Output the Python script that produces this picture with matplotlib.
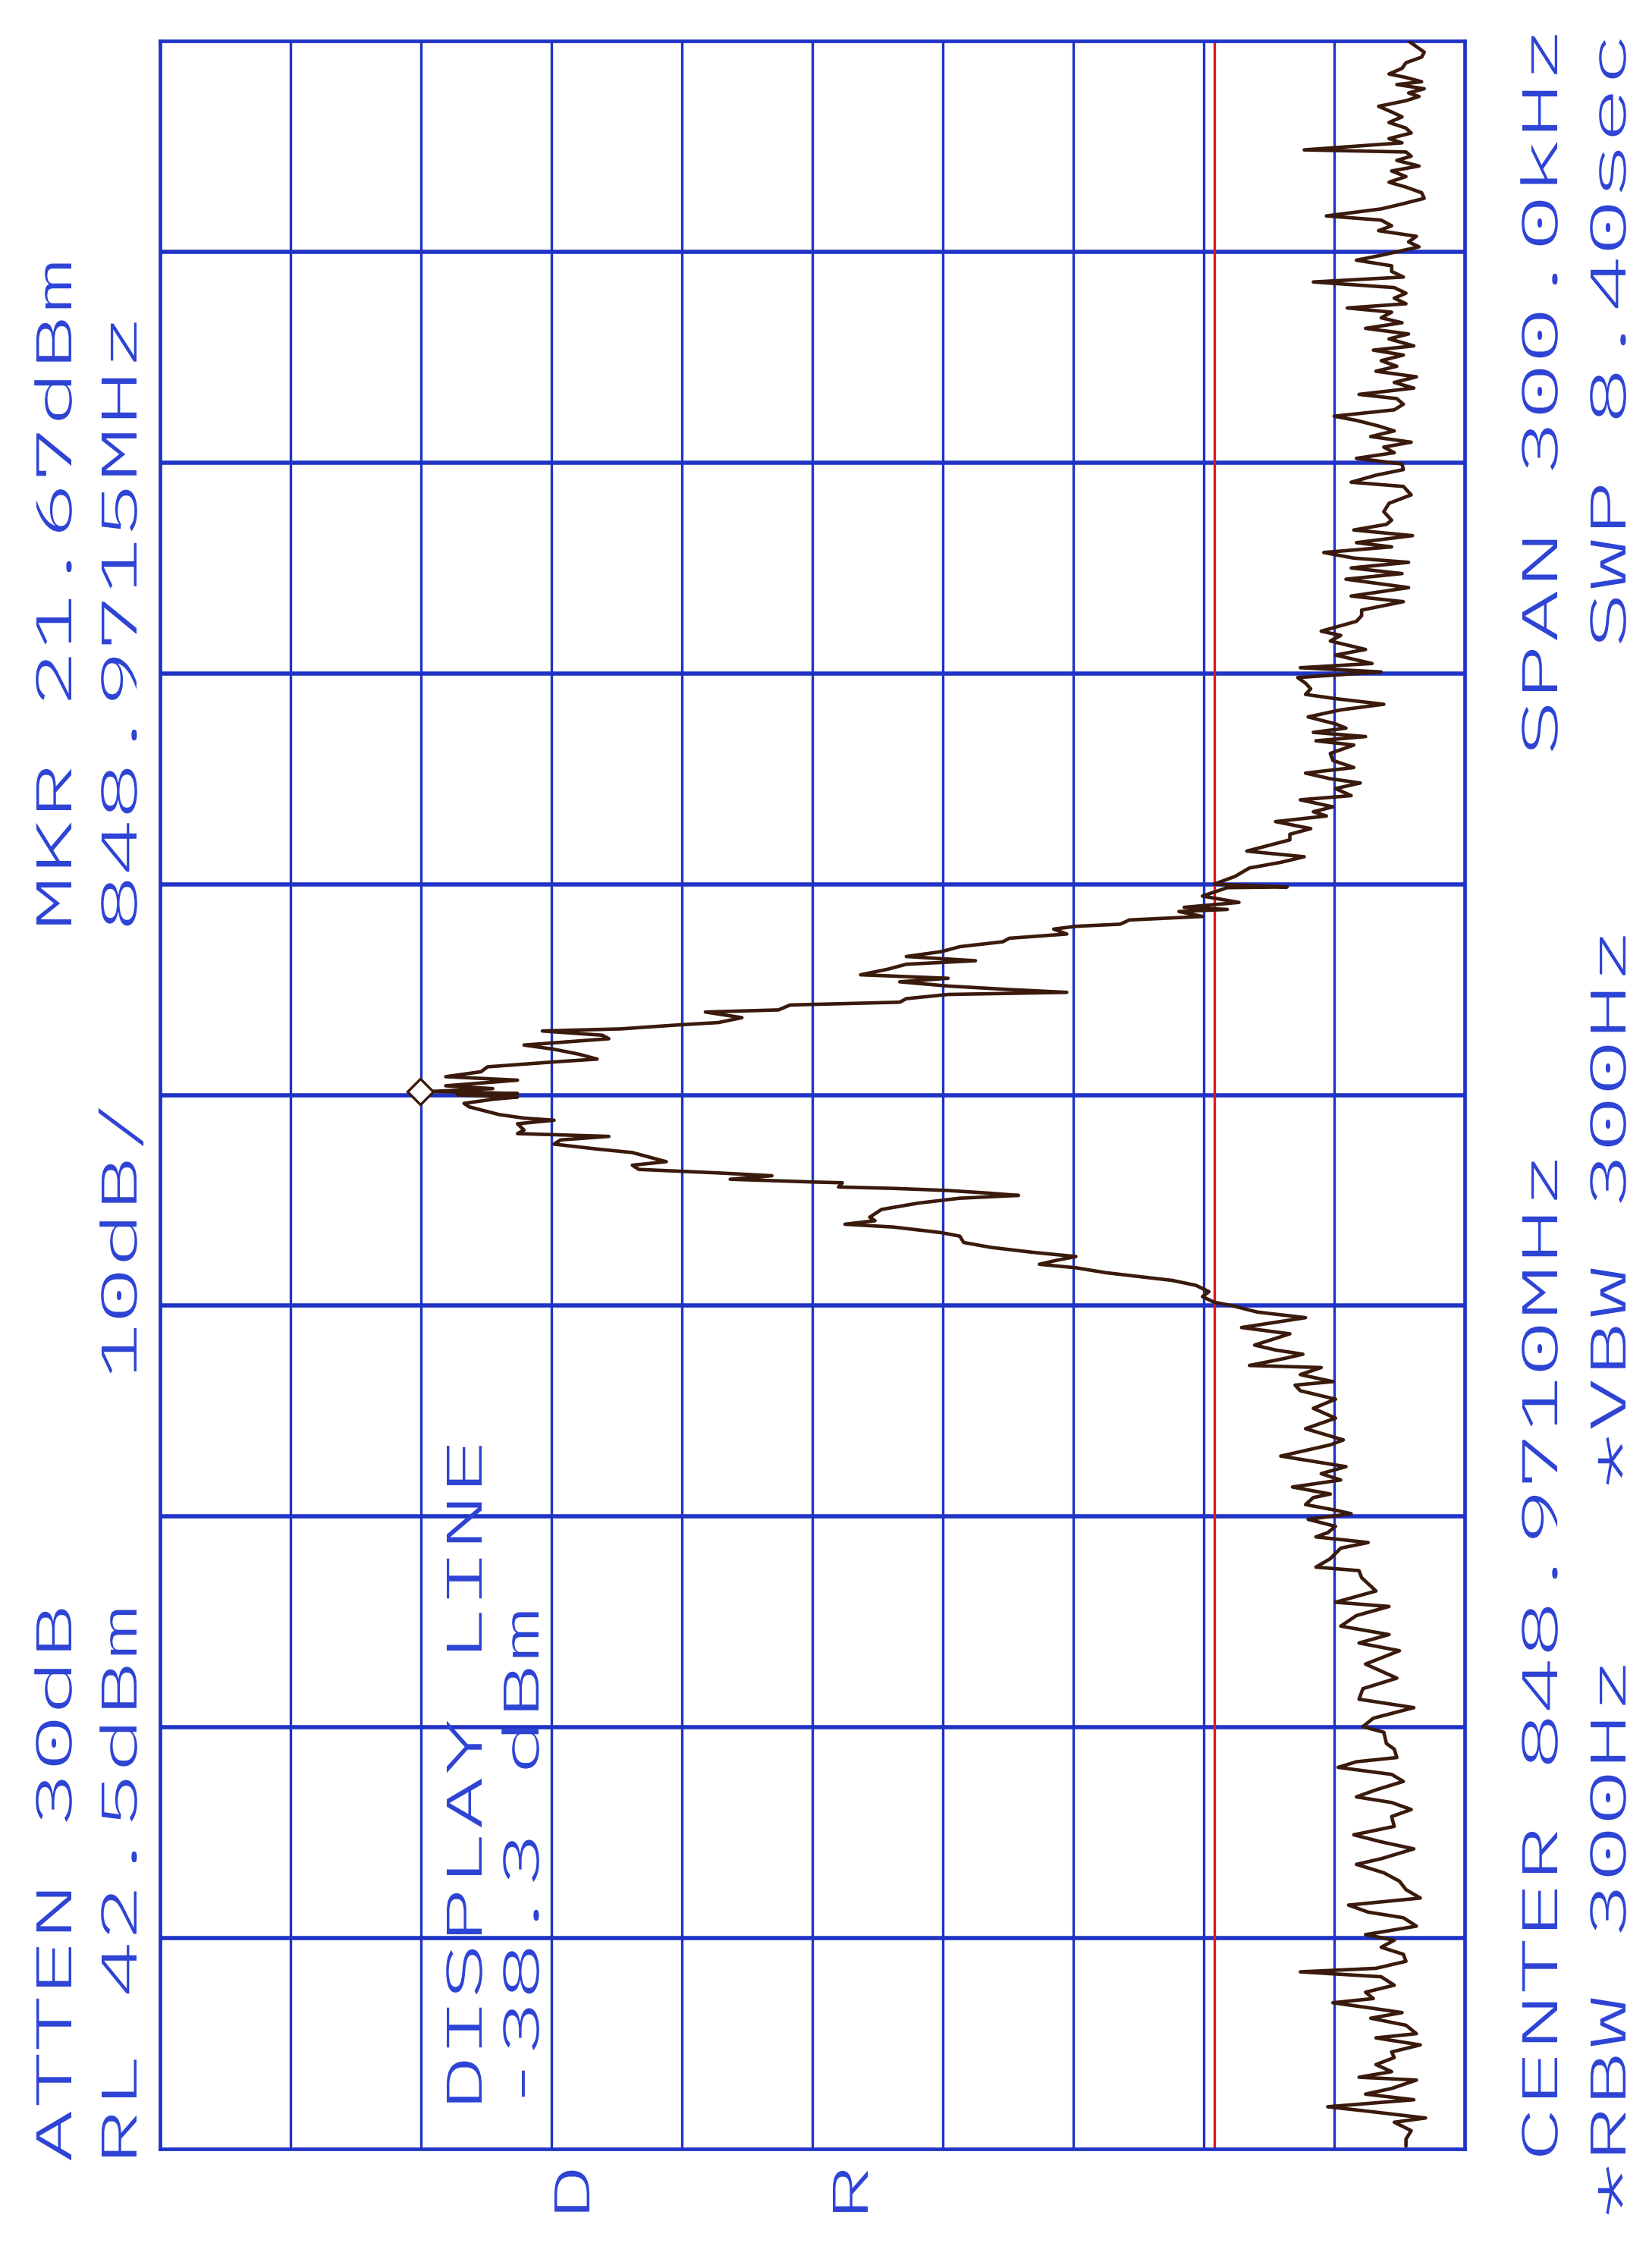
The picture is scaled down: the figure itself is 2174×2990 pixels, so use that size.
import matplotlib
matplotlib.use("Agg")
import matplotlib.pyplot as plt
from matplotlib import font_manager as fm
from matplotlib.patheffects import AbstractPathEffect
from matplotlib.transforms import Affine2D, offset_copy

# ---------------- instrument settings (from the annotations) ----------------
ref_level_dbm = 42.5
db_per_div = 10
n_div = 10
center_mhz = 848.9710
span_khz = 300.0
display_line_dbm = -38.3
mkr_freq_mhz = 848.9715
mkr_level_dbm = 21.67

# ---------------- trace readings: (offset from center in kHz, level in dBm) ----------------
trace_noise_high = [
    (150.0, -53.2), (149.2, -53.8), (148.4, -54.4), (147.7, -54.2), (146.9, -53.0), (146.1, -52.7),
    (145.3, -51.7), (144.8, -53.0), (144.2, -54.2), (143.8, -52.3), (143.2, -54.4), (142.6, -53.2),
    (142.1, -54.0), (141.5, -53.0), (140.7, -50.9), (139.9, -51.9), (139.2, -52.7), (138.4, -51.7),
    (137.6, -53.0), (136.9, -53.4), (136.1, -51.7), (135.5, -52.7), (134.5, -45.2), (134.2, -53.0),
    (133.6, -53.4), (133.0, -52.3), (132.2, -54.0), (131.5, -51.9), (130.7, -53.0), (129.9, -51.7),
    (129.2, -53.0), (128.4, -54.2), (127.6, -54.4), (126.8, -52.7), (126.1, -51.1), (125.1, -46.9),
    (124.5, -51.1), (123.7, -51.9), (123.0, -50.9), (122.2, -53.8), (121.4, -53.2), (120.7, -54.0),
    (120.2, -52.8), (119.5, -51.1), (118.8, -49.2), (118.0, -51.9), (117.2, -51.9), (116.4, -52.8),
    (115.7, -45.9), (114.9, -52.1), (114.1, -53.0), (113.4, -52.1), (112.6, -53.0), (112.0, -48.5),
    (111.4, -51.9), (110.6, -51.1), (109.9, -52.7), (109.1, -49.9), (108.3, -53.2), (107.6, -51.7),
    (106.6, -53.6), (106.0, -50.5), (105.3, -52.8), (104.5, -51.1), (103.7, -52.3), (103.0, -50.7),
    (102.2, -53.8), (101.4, -52.1), (100.6, -53.6), (99.7, -49.4), (99.1, -52.3), (98.3, -52.8),
    (97.5, -52.1), (96.6, -47.5), (96.0, -49.2), (95.2, -50.9), (94.5, -52.1), (93.7, -50.3),
    (92.9, -53.4), (92.2, -51.3),
]
trace_rise_high = [
    (91.4, -52.1), (90.6, -49.2), (89.8, -52.7), (89.0, -52.8), (88.2, -50.7), (87.2, -48.8),
    (86.6, -52.8), (85.4, -53.4), (84.2, -51.7), (83.0, -51.3), (81.8, -51.9), (81.2, -51.5),
    (80.4, -49.0), (79.6, -53.5), (78.6, -49.2), (78.0, -51.9), (77.2, -46.7), (76.4, -49.0),
    (75.8, -53.2), (75.0, -48.8), (74.2, -52.7), (73.4, -48.4), (72.2, -53.2), (71.0, -48.8),
    (70.2, -52.8), (69.0, -49.6), (68.2, -49.6), (67.4, -49.2), (66.0, -46.5), (65.4, -48.0),
    (64.6, -47.2), (63.4, -49.9), (62.6, -47.6), (61.4, -50.4), (60.8, -44.9), (60.2, -51.1),
    (59.4, -44.7), (58.6, -45.3), (57.8, -45.7), (57.0, -45.3), (56.4, -47.6), (55.6, -51.3),
    (54.8, -48.0), (53.8, -45.5), (52.8, -47.6), (52.2, -48.4), (51.6, -45.9), (51.0, -49.9),
    (50.4, -46.1), (49.8, -49.0), (48.6, -47.2), (47.6, -47.4), (46.6, -49.0), (45.8, -45.3),
    (45.0, -47.2), (44.4, -49.5), (43.6, -47.6), (42.6, -48.8), (42.0, -44.9), (41.0, -47.4),
    (40.3, -45.9), (39.7, -46.9), (38.9, -43.0), (37.9, -45.7), (37.1, -44.1), (36.3, -44.1),
    (34.7, -40.8), (33.9, -45.2), (33.1, -43.4), (32.3, -41.0), (31.1, -39.9),
]
trace_lobe_high = [
    (30.0, -38.3), (29.6, -43.9), (29.5, -39.3), (28.3, -37.4), (27.4, -40.2), (26.7, -36.0),
    (26.4, -39.3), (26.1, -35.6), (25.4, -37.4), (24.9, -31.8), (24.3, -31.1), (24.0, -27.7),
    (23.6, -26.0), (22.9, -27.0), (22.3, -22.6), (21.8, -22.1), (21.1, -18.8), (20.4, -17.4),
    (19.7, -14.7), (19.1, -20.0), (18.6, -14.7), (17.9, -13.3), (17.1, -11.2), (16.6, -17.9),
    (16.1, -14.2), (15.5, -17.9), (15.0, -22.6), (14.6, -27.0), (14.3, -17.9), (13.7, -14.7),
    (13.2, -14.2), (12.8, -5.8), (12.1, -4.9), (11.8, 0.7), (11.0, -2.1), (10.3, -0.3),
    (10.0, 2.5), (9.4, 7.2), (9.1, 13.2), (8.5, 8.6), (8.0, 8.1), (7.1, 14.6),
    (6.5, 12.3), (5.8, 10.4), (5.1, 9.0), (4.7, 12.3), (4.0, 17.4), (3.3, 17.9),
    (2.6, 20.6), (2.1, 15.1), (1.3, 20.6), (0.9, 17.0), (0.5, 21.67),
]
trace_lobe_low = [
    (0.2, 15.1), (0.0, 19.7), (-0.3, 15.1), (-0.6, 16.9), (-1.2, 19.2), (-1.7, 18.8),
    (-2.8, 16.5), (-3.3, 14.6), (-3.6, 12.3), (-4.1, 15.1), (-5.0, 14.6), (-5.5, 15.1),
    (-5.9, 8.1), (-6.4, 11.8), (-7.0, 12.3), (-7.7, 9.0), (-8.2, 6.3), (-8.9, 4.9),
    (-9.5, 3.7), (-10.0, 6.3), (-10.6, 5.8), (-11.1, -0.3), (-11.5, -4.4), (-12.0, -1.2),
    (-12.4, -7.7), (-12.5, -9.8), (-13.1, -9.5), (-13.3, -13.7), (-13.6, -17.9), (-14.0, -21.2),
    (-14.3, -23.3), (-14.7, -18.8), (-15.4, -15.6), (-16.3, -12.8), (-17.4, -11.9), (-17.9, -12.3),
    (-18.4, -10.0), (-18.8, -13.7), (-19.6, -17.4), (-20.1, -18.8), (-21.0, -19.1), (-21.7, -21.2),
    (-22.4, -24.4), (-23.0, -27.7), (-23.5, -26.3), (-24.1, -24.9), (-24.6, -27.7), (-25.3, -30.0),
    (-25.9, -32.8), (-26.4, -35.1), (-27.1, -36.9), (-28.0, -37.9), (-28.7, -37.4), (-29.5, -38.3),
    (-30.0, -39.7), (-30.9, -41.6),
]
trace_fall_low = [
    (-31.7, -45.3), (-33.1, -40.4), (-34.0, -44.1), (-35.6, -41.4), (-36.3, -43.0), (-36.9, -45.1),
    (-37.5, -43.7), (-38.5, -41.0), (-38.8, -46.5), (-39.8, -44.9), (-40.8, -47.4), (-41.3, -44.5),
    (-42.1, -44.9), (-43.3, -47.6), (-44.6, -45.9), (-46.0, -47.6), (-47.5, -45.3), (-49.1, -48.2),
    (-49.8, -47.2), (-51.4, -43.4), (-52.9, -48.4), (-53.9, -46.5), (-54.8, -48.0), (-55.8, -44.3),
    (-56.8, -47.2), (-57.3, -45.9), (-58.3, -45.3), (-59.1, -47.6), (-59.6, -48.8), (-60.4, -45.5),
    (-61.4, -47.6), (-62.3, -47.0), (-62.9, -46.1), (-63.7, -50.1), (-64.5, -48.0), (-66.0, -47.2),
    (-67.2, -46.1), (-67.7, -49.4), (-68.7, -49.6), (-70.6, -50.7), (-72.2, -47.6), (-72.8, -51.7),
    (-74.1, -49.2), (-75.6, -48.0), (-76.8, -51.7), (-78.0, -49.4), (-79.1, -52.5), (-81.0, -49.9),
    (-83.0, -52.3), (-84.5, -49.7), (-86.0, -49.4), (-87.2, -53.6), (-88.7, -50.5),
]
trace_noise_low = [
    (-89.9, -49.7), (-90.7, -51.3), (-92.3, -51.5), (-93.1, -52.1), (-94.3, -52.3), (-94.9, -49.2),
    (-95.7, -47.8), (-96.7, -51.9), (-97.7, -52.8), (-98.9, -50.7), (-99.9, -49.2), (-100.7, -51.9),
    (-101.7, -53.4), (-102.7, -51.9), (-104.1, -52.1), (-105.3, -49.0), (-106.3, -51.1), (-107.3, -53.6),
    (-108.7, -51.1), (-109.5, -49.2), (-110.7, -51.3), (-111.9, -52.5), (-113.1, -53.0), (-114.3, -54.1),
    (-115.3, -48.6), (-116.3, -50.1), (-117.1, -52.8), (-118.3, -53.8), (-119.5, -49.9), (-120.3, -52.1),
    (-121.3, -51.1), (-122.3, -52.8), (-123.3, -53.0), (-124.3, -50.7), (-124.8, -44.9), (-125.5, -51.1),
    (-126.7, -52.1), (-127.7, -49.9), (-128.6, -50.5), (-129.2, -47.4), (-130.0, -50.5), (-130.6, -52.7),
    (-131.4, -50.3), (-132.4, -53.0), (-133.6, -53.8), (-134.2, -50.7), (-135.2, -54.1), (-136.2, -51.9),
    (-137.0, -52.1), (-138.0, -50.7), (-139.0, -51.9), (-139.8, -49.4), (-140.2, -53.8), (-141.4, -51.9),
    (-142.2, -49.9), (-143.0, -53.6), (-144.0, -47.0), (-144.6, -49.9), (-145.6, -54.5), (-146.2, -52.1),
    (-147.4, -53.4), (-148.6, -53.0), (-149.6, -53.0),
]

# ---------------- annotation texts ----------------
txt_atten = "ATTEN 30dB"
txt_mkr = "MKR 21.67dBm"
txt_rl = "RL 42.5dBm"
txt_scale = "10dB/"
txt_mkr_freq = "848.9715MHz"
txt_dl1 = "DISPLAY LINE"
txt_dl2 = "-38.3 dBm"
txt_center = "CENTER 848.9710MHz"
txt_span = "SPAN 300.0kHz"
txt_rbw = "*RBW 300Hz"
txt_vbw = "*VBW 300Hz"
txt_swp = "SWP 8.40sec"
txt_d = "D"
txt_r = "R"

# ---------------- style ----------------
W, H, DPI = 2174, 2990, 100
GRID = "#1f33c6"
TEXT = "#2e44d4"
RED = "#e3141c"
TRACE = "#3a1a0c"

_names = {f.name for f in fm.fontManager.ttflist}
if "IBM Plex Mono" in _names:
    FONT = ["IBM Plex Mono", "DejaVu Sans Mono"]
    WEIGHT = 300
    ADV_EM, CAP_EM = 0.600, 0.698
else:
    FONT = ["DejaVu Sans Mono"]
    WEIGHT = "normal"
    ADV_EM, CAP_EM = 0.602, 0.729

CAP_PX = 46.0                # cap height of the plotter lettering
PITCH_PX = 74.0              # character pitch of the plotter lettering
EM_PX = CAP_PX / CAP_EM
FS = EM_PX * 72.0 / DPI
STRETCH = PITCH_PX / (ADV_EM * EM_PX)


class StretchAlong(AbstractPathEffect):
    """Widen glyphs along the writing direction (plotter-style lettering)."""

    def __init__(self, sx):
        super().__init__()
        self.sx = sx

    def draw_path(self, renderer, gc, tpath, affine, rgbFace=None):
        renderer.draw_path(gc, tpath, Affine2D().scale(self.sx, 1.0) + affine, rgbFace)


fig = plt.figure(figsize=(W / DPI, H / DPI), dpi=DPI)
fig.patch.set_facecolor("white")

gx0, gx1, gy0, gy1 = 211, 1931, 54, 2833   # grid box in pixels (top-left origin)
ax = fig.add_axes([gx0 / W, 1 - gy1 / H, (gx1 - gx0) / W, (gy1 - gy0) / H])

bottom_dbm = ref_level_dbm - db_per_div * n_div
ax.set_xlim(ref_level_dbm, bottom_dbm)
ax.set_ylim(-span_khz / 2, span_khz / 2)
xticks = [ref_level_dbm - db_per_div * k for k in range(n_div + 1)]
yticks = [-span_khz / 2 + span_khz / n_div * k for k in range(n_div + 1)]
ax.set_xticks(xticks)
ax.set_yticks(yticks)
ax.tick_params(length=0, labelbottom=False, labelleft=False)
for xv in xticks[1:-1]:
    ax.axvline(xv, color=GRID, lw=2.4, zorder=1)
for yv in yticks[1:-1]:
    ax.axhline(yv, color=GRID, lw=4.0, zorder=1)
for sp in ax.spines.values():
    sp.set_color(GRID)
    sp.set_linewidth(3.4)

ax.axvline(display_line_dbm, color=RED, lw=2.4, zorder=2)

trace = (trace_noise_high + trace_rise_high + trace_lobe_high +
         trace_lobe_low + trace_fall_low + trace_noise_low)
freqs = [p[0] for p in trace]
levels = [p[1] for p in trace]
ax.plot(levels, freqs, color=TRACE, lw=3.3, zorder=3,
        solid_joinstyle="round", solid_capstyle="round")

mkr_off_khz = (mkr_freq_mhz - center_mhz) * 1000.0
mtrans = offset_copy(ax.transData, fig=fig, x=-15, y=0, units="dots")
ax.plot([mkr_level_dbm], [mkr_off_khz], marker="D", ms=17, mfc="white",
        mec=TRACE, mew=2.4, transform=mtrans, zorder=4, clip_on=False)


def plot_label(s, base_x_px, start_y_px):
    fig.text(base_x_px / W, 1 - start_y_px / H, s, rotation=90, rotation_mode="anchor",
             ha="left", va="baseline", fontsize=FS, family=FONT, weight=WEIGHT, color=TEXT,
             path_effects=[StretchAlong(STRETCH)])


plot_label(txt_atten, 94, 2853)
plot_label(txt_mkr, 94, 1228)
plot_label(txt_rl, 180, 2855)
plot_label(txt_scale, 180, 1819)
plot_label(txt_mkr_freq, 180, 1228)
plot_label(txt_dl1, 635, 2784)
plot_label(txt_dl2, 710, 2784)
plot_label(txt_center, 2053, 2851)
plot_label(txt_span, 2053, 997)
plot_label(txt_rbw, 2143, 2925)
plot_label(txt_vbw, 2143, 1963)
plot_label(txt_swp, 2143, 855)
plot_label(txt_d, 777, 2928)
plot_label(txt_r, 1144, 2928)

fig.savefig("out.png", dpi=DPI, facecolor="white")
